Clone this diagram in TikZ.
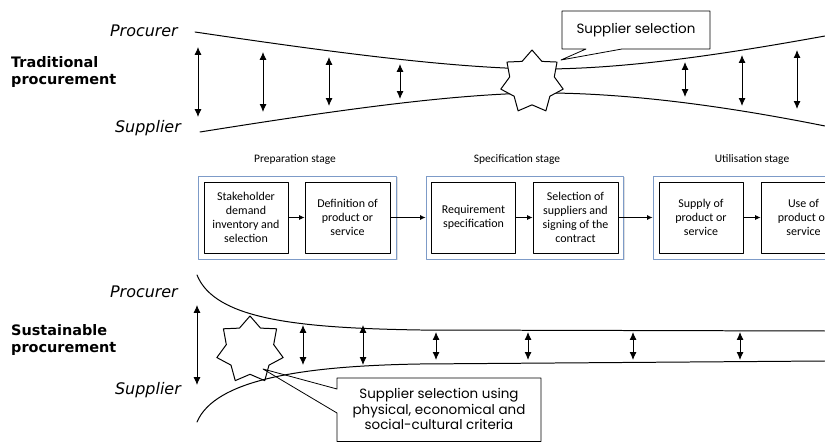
\documentclass[tikz,border=0pt]{standalone}
\usepackage{fontspec}
\setmainfont{Carlito}
\newfontfamily\verdfont{DejaVu Sans}
\newfontfamily\geofont{Poppins}
\usetikzlibrary{arrows.meta,shapes.geometric,shadows}
\definecolor{stageblue}{RGB}{125,155,200}

\begin{document}
\begin{tikzpicture}[x=1bp, y=-1bp, >={Latex[length=8pt,width=7pt]}, line join=round, line cap=round,
		curve/.style={line width=1pt},
		gap/.style={<->, line width=0.9pt},
		flow/.style={->, line width=0.8pt, >={Latex[length=5.5pt,width=5pt]}},
		actor/.style={font=\verdfont\itshape\fontsize{16}{19}\selectfont, anchor=east, inner sep=0pt},
		kind/.style={font=\verdfont\bfseries\fontsize{14.5}{17}\selectfont, align=left, anchor=west, inner sep=0pt},
		task/.style={draw, line width=0.8pt, minimum width=84bp, minimum height=71bp, align=center, inner sep=1pt, font=\fontsize{12}{14}\selectfont},
		stagebox/.style={draw=stageblue, line width=0.9pt, fill=white, minimum height=83bp, drop shadow={shadow xshift=1.5pt, shadow yshift=-1.5pt, opacity=0.25}},
		stagename/.style={font=\fontsize{11.5}{14}\selectfont},
		star7/.style={draw, curve, star, star points=7, star point ratio=1.4, minimum size=64bp, inner sep=0pt},
		note/.style={font=\geofont\fontsize{13.5}{16}\selectfont, align=center}]
	\useasboundingbox (0,0) rectangle (825,443);
	\clip (0,0) rectangle (825,443);
	
	% 1. Traditional procurement
	\node[actor] (procA) at (178,31) {Procurer};
	\node[actor] (suppA) at (181,128) {Supplier};
	\node[kind] (trad) at (11,72) {Traditional\\procurement};
	
	\draw[curve] (195,32) .. controls (350,55) and (450,67) .. (532,69) .. controls (620,70) and (720,55) .. (825,36);
	\draw[curve] (200,132) .. controls (350,108) and (450,95) .. (532,93) .. controls (620,92) and (720,105) .. (825,126);
	\node[star7, fill=white] (selA) at (532,82) {};
	
	\foreach \x/\a/\b in {198/47/117, 263/52/112, 329/57/106, 400/64/99, 685/62/97, 742/55/106, 797/50/109}
		\draw[gap] (\x,\a) -- (\x,\b);
	
	% callout
	\draw[line width=0.8pt] (562,11) -- (710,11) -- (710,49) -- (622,49) -- (561,60) -- (586,49) -- (562,49) -- cycle;
	\node[note] (selnote) at (636,30) {Supplier selection};
	
	% 2. Stages
	\node[stagebox, minimum width=198bp] (prep) at (297,217.5) {};
	\node[stagebox, minimum width=197bp] (spec) at (524.5,217.5) {};
	\node[stagebox, minimum width=200bp] (util) at (753,217.5) {};
	\node[stagename] (prepname) at (295,160) {Preparation stage};
	\node[stagename] (specname) at (517,160) {Specification stage};
	\node[stagename] (utilname) at (752,160) {Utilisation stage};
	
	\node[task] (demand) at (246,217.5) {Stakeholder\\demand\\inventory and\\selection};
	\node[task, minimum width=85bp] (define) at (347.5,217.5) {Definition of\\product or\\service};
	\node[task] (require) at (473.5,217.5) {Requirement\\specification};
	\node[task, minimum width=85bp] (contract) at (575.5,217.5) {Selection of\\suppliers and\\signing of the\\contract};
	\node[task] (supply) at (701,217.5) {Supply of\\product or\\service};
	\node[task, minimum width=85bp] (use) at (803.5,217.5) {Use of\\product or\\service};
	
	\draw[flow] (demand) -- (define);
	\draw[flow] (define) -- (spec);
	\draw[flow] (require) -- (contract);
	\draw[flow] (contract) -- (util);
	\draw[flow] (supply) -- (use);
	
	% 3. Sustainable procurement
	\node[actor] (procB) at (178,292) {Procurer};
	\node[actor] (suppB) at (181,390) {Supplier};
	\node[kind] (sust) at (11,340) {Sustainable\\procurement};
	
	\draw[curve] (197,275) .. controls (215,320) and (300,328) .. (420,330) -- (825,331);
	\draw[curve] (197,422) .. controls (215,380) and (300,366) .. (420,364) -- (825,361);
	\node[star7, minimum size=68bp] (selB) at (250,350) {};
	
	\draw[gap] (197,305) -- (197,385);
	\foreach \x/\a/\b in {303/325/365, 363/325/365, 436/332/360, 528/332/360, 633/332/360, 740/332/360}
		\draw[gap] (\x,\a) -- (\x,\b);
	
	% callout
	\draw[line width=0.8pt] (337,389) -- (263,369) -- (337,413) -- (337,441.5) -- (541,441.5) -- (541,378) -- (337,378) -- cycle;
	\node[note] (critnote) at (439,409) {Supplier selection using\\physical, economical and\\social-cultural criteria};
	
\end{tikzpicture}
\end{document}
